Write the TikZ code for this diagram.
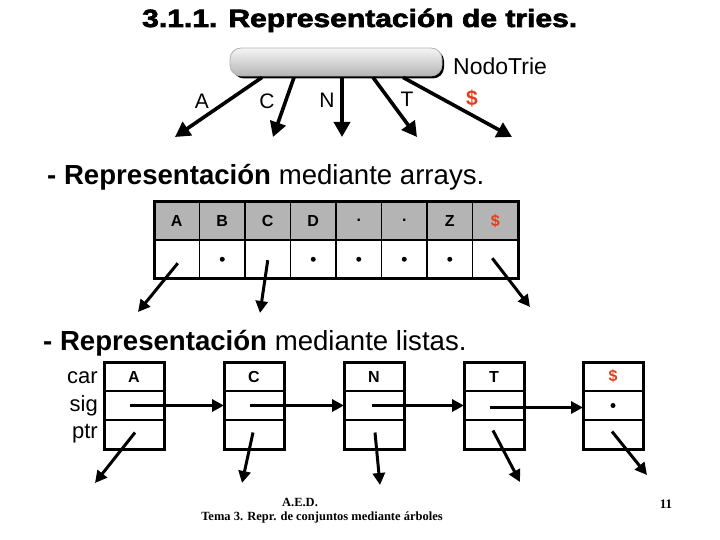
\documentclass[tikz,border=0pt]{standalone}
\usepackage{fontspec}
\setmainfont{Liberation Sans}
\newfontfamily\tms{Liberation Serif}
\newfontfamily\heavy[BoldFeatures={FakeBold=2.5}]{Liberation Sans}
\usetikzlibrary{arrows.meta}
\definecolor{dollar}{RGB}{226,62,28}
\definecolor{hdr}{RGB}{180,180,180}
\begin{document}
\begin{tikzpicture}[x=1pt,y=-1pt,
  fat/.style={line width=3.6pt,-{Triangle[length=15pt,width=16pt]}},
  thinarr/.style={line width=3pt,-{Triangle[length=12pt,width=12pt]}},
  lbl/.style={font=\fontsize{21}{21}\selectfont, inner sep=0pt, anchor=base},
  head/.style={font=\fontsize{27.6}{27.6}\selectfont, inner sep=0pt, anchor=base west},
  cell/.style={draw, line width=1.7pt, minimum width=45.5pt, minimum height=38.5pt, inner sep=0pt, outer sep=0pt, font=\fontsize{16}{16}\selectfont\bfseries},
  hcell/.style={cell, fill=hdr},
  lcell/.style={draw, line width=2pt, minimum width=60pt, minimum height=29pt, inner sep=0pt, outer sep=0pt, font=\fontsize{16}{16}\selectfont\bfseries},
  side/.style={font=\fontsize{22}{22}\selectfont, inner sep=0pt, anchor=base east},
  dot/.style={circle, fill=black, inner sep=0pt, minimum size=5pt},
  foot/.style={font=\tms\bfseries\fontsize{12.5}{12.5}\selectfont, inner sep=0pt, anchor=base}
]
\useasboundingbox (0,0) rectangle (720,540);

% Title
\node[anchor=base west, inner sep=0pt] (title) at (142,27)
  {\resizebox{435pt}{\height}{\fontsize{25}{25}\selectfont\heavy\bfseries 3.1.1. Representación de tries.}};

% Trie node capsule
\fill[black, rounded corners=11pt] (233,50) rectangle (444,78.5);
\node[minimum width=212pt, minimum height=28pt, rounded corners=11pt, inner sep=0pt,
      top color=gray!8, bottom color=gray!58, draw=gray!60, line width=0.8pt] (cap) at (336,62) {};
\node[font=\fontsize{23}{23}\selectfont, inner sep=0pt, anchor=base west] (nt) at (453,75) {NodoTrie};

\coordinate (tA) at (175,137);
\coordinate (tC) at (273,137);
\coordinate (tN) at (342,137);
\coordinate (tT) at (417,137);
\coordinate (tD) at (512,137);
\draw[fat] ([xshift=-74pt,yshift=-1pt]cap.south) -- (tA);
\draw[fat] ([xshift=-42pt,yshift=-1pt]cap.south) -- (tC);
\draw[fat] ([xshift=6pt,yshift=-1pt]cap.south) -- (tN);
\draw[fat] ([xshift=37pt,yshift=-1pt]cap.south) -- (tT);
\draw[fat] ([xshift=67pt,yshift=-1pt]cap.south) -- (tD);
\node[lbl] (lA) at (202,109) {A};
\node[lbl] (lC) at (267,109) {C};
\node[lbl] (lN) at (327,108) {N};
\node[lbl] (lT) at (407,107) {T};
\node[lbl, text=dollar, font=\fontsize{21}{21}\selectfont\bfseries] (lD) at (472,106) {\$};

% Arrays heading
\node[head] (h2) at (47,185) {\textbf{- Representación} mediante arrays.};

% Array
\foreach \i/\t in {1/A,2/B,3/C,4/D,5/.,6/.,7/Z,8/{\textcolor{dollar}{\$}}}{
  \node[hcell] (h\i) at ({154+22.75+45.5*(\i-1)},220.75) {\t};
  \node[cell] (b\i) at ({154+22.75+45.5*(\i-1)},259.25) {};
}
\draw[line width=3pt] (h1.north west) rectangle (b8.south east);
\foreach \i in {2,4,5,6,7}{ \node[dot] (d\i) at (b\i.center) {}; }
\coordinate (aA) at (138,312);
\coordinate (aC) at (260,313);
\coordinate (aD) at (530,307);
\draw[thinarr] ([shift={(1,4)}]b1.center) -- (aA);
\draw[thinarr] ([shift={(0,1)}]b3.center) -- (aC);
\draw[thinarr] ([shift={(-3,-1)}]b8.center) -- (aD);

% Lists heading
\node[head] (h3) at (43,350) {\textbf{- Representación} mediante listas.};

\node[side] (scar) at (98,383) {car};
\node[side] (ssig) at (98,411) {sig};
\node[side] (sptr) at (98,438) {ptr};

\foreach \n/\x/\t in {a/134/A,c/254/C,n/374/N,t/494/T,d/613/{\textcolor{dollar}{\$}}}{
  \node[lcell] (l\n1) at (\x,376.5) {\t};
  \node[lcell] (l\n2) at (\x,405.5) {};
  \node[lcell] (l\n3) at (\x,434.5) {};
  \draw[line width=3pt] (l\n1.north west) rectangle (l\n3.south east);
}
\node[dot] (ldot) at (ld2.center) {};

\draw[thinarr] ([xshift=-4pt]la2.center) -- (lc2.west);
\draw[thinarr] ([xshift=-4pt]lc2.center) -- (ln2.west);
\draw[thinarr] ([xshift=-2pt]ln2.center) -- (lt2.west);
\draw[thinarr] ([xshift=-4pt,yshift=-2pt]lt2.center) -- ([yshift=-2pt]ld2.west);

\coordinate (pA) at (95,483);
\coordinate (pC) at (242,483);
\coordinate (pN) at (380,485);
\coordinate (pT) at (520,482);
\coordinate (pD) at (647,475);
\draw[thinarr] ([shift={(1,-2)}]la3.center) -- (pA);
\draw[thinarr] ([shift={(-1,-2)}]lc3.center) -- (pC);
\draw[thinarr] ([shift={(1,-2)}]ln3.center) -- (pN);
\draw[thinarr] ([shift={(-1,-4)}]lt3.center) -- (pT);
\draw[thinarr] ([shift={(-1,-3)}]ld3.center) -- (pD);

% Footer
\node[foot] (f1) at (300,506) {A.E.D.};
\node[foot] (f2) at (322,520) {Tema 3. Repr. de conjuntos mediante árboles};
\node[foot, font=\tms\bfseries\fontsize{13}{13}\selectfont] (f3) at (666,508) {11};
\end{tikzpicture}
\end{document}
